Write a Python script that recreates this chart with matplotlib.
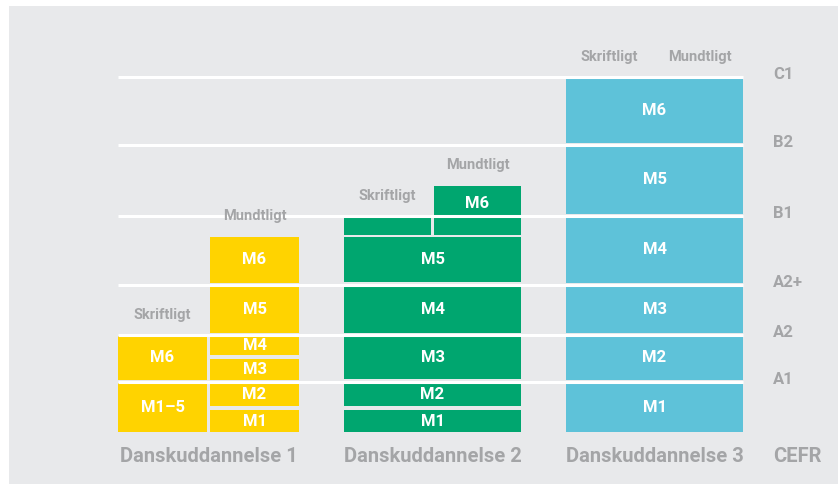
"""
Danskuddannelse 1-3: moduler (M1-M6) mod CEFR-niveauer, skriftligt og mundtligt.
Heights are measured upward from the common baseline of the columns.
"""

import matplotlib.pyplot as plt
from matplotlib.patches import Rectangle

plt.rcParams["font.family"] = ["Roboto", "DejaVu Sans"]

# CEFR boundaries (height above baseline)
cefr_levels = ["A1", "A2", "A2+", "B1", "B2", "C1"]
cefr_lines = [50.5, 97.5, 147.5, 216.5, 287.5, 355.5]

courses = ["Danskuddannelse 1", "Danskuddannelse 2", "Danskuddannelse 3"]
course_colors = ["#FFD300", "#00A66F", "#5EC2D9"]

# blocks: (label, part, bottom, top); part 0 = skriftligt, 1 = mundtligt, 2 = begge
du1_blocks = [
    ("M1–5", 0, 0, 49), ("M6", 0, 52, 96),
    ("M1", 1, 0, 22), ("M2", 1, 26, 49), ("M3", 1, 52, 73),
    ("M4", 1, 77, 96), ("M5", 1, 99, 146), ("M6", 1, 149, 195),
]
du2_blocks = [
    ("M1", 2, 0, 22), ("M2", 2, 26, 49), ("M3", 2, 53, 96),
    ("M4", 2, 99, 146), ("M5", 2, 150, 195),
    ("", 0, 197, 215), ("M6", 1, 197, 246),
]
du3_blocks = [
    ("M1", 2, 0, 49), ("M2", 2, 52, 96), ("M3", 2, 99, 146),
    ("M4", 2, 149, 215), ("M5", 2, 218, 286), ("M6", 2, 289, 354),
]
all_blocks = [du1_blocks, du2_blocks, du3_blocks]
du2_m6_label_y = 229  # label sits above the B1 line

course_left = [118, 344, 566]
course_width = [181, 177, 177]
gap = 3

bg = "#E8E9EB"
grey_text = "#A4A5A7"

fig = plt.figure(figsize=(8.38, 4.84), dpi=100)
fig.patch.set_facecolor("white")
ax = fig.add_axes([0, 0, 1, 1])
ax.set_xlim(0, 838)
ax.set_ylim(-52, 432)
ax.axis("off")

ax.add_patch(Rectangle((9, -52), 829, 478, facecolor=bg, edgecolor="none", zorder=0))

for i, blocks in enumerate(all_blocks):
    left = course_left[i]
    full = course_width[i]
    half = (full - gap) / 2
    tops = [0, 0]
    for label, part, bottom, top in blocks:
        if part == 2:
            x0, w = left, full
            tops = [max(tops[0], top), max(tops[1], top)]
        else:
            x0 = left + part * (half + gap)
            w = half
            tops[part] = max(tops[part], top)
        ax.add_patch(Rectangle((x0, bottom), w, top - bottom,
                               facecolor=course_colors[i], edgecolor="none", zorder=2))
        if label:
            ty = (bottom + top) / 2
            if i == 1 and label == "M6":
                ty = du2_m6_label_y
            ax.text(x0 + w / 2, ty, label, color="white", fontsize=12,
                    fontweight="bold", ha="center", va="center", zorder=4)
    # Skriftligt / Mundtligt headers above each sub-column
    for part, name in enumerate(["Skriftligt", "Mundtligt"]):
        cx = left + half / 2 + part * (half + gap)
        ax.text(cx, tops[part] + 21, name, color=grey_text, fontsize=10.5,
                fontweight="bold", ha="center", va="center", zorder=4)
    ax.text(left + full / 2, -24, courses[i], color=grey_text, fontsize=14.5,
            fontweight="bold", ha="center", va="center", zorder=4)

for level, yv in zip(cefr_levels, cefr_lines):
    ax.plot([118, 743], [yv, yv], color="white", linewidth=2.2,
            solid_capstyle="butt", zorder=3)
    ax.text(773, yv + 2, level, color=grey_text, fontsize=12,
            fontweight="bold", ha="left", va="center", zorder=4)
ax.text(773, -24, "CEFR", color=grey_text, fontsize=14.5,
        fontweight="bold", ha="left", va="center", zorder=4)

fig.savefig("out.png", dpi=100, facecolor=fig.get_facecolor())
plt.close(fig)
